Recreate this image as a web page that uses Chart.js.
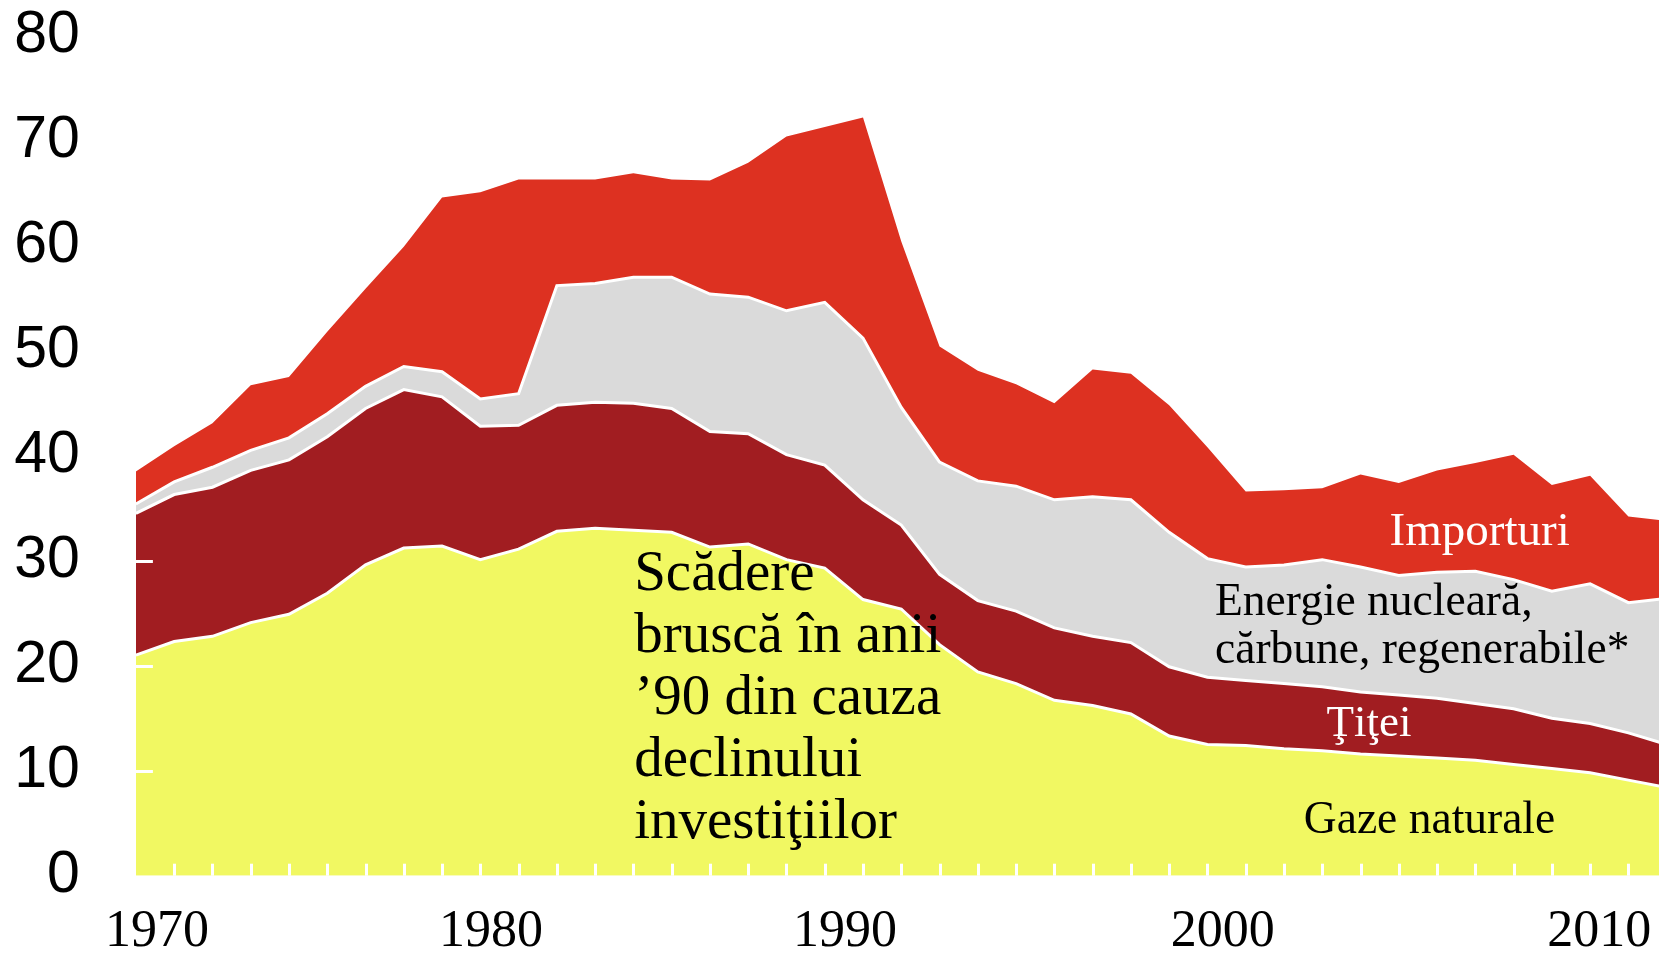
<!DOCTYPE html>
<html>
<head>
<meta charset="utf-8">
<script src="https://cdn.jsdelivr.net/npm/chart.js@4/dist/chart.umd.min.js"></script>
<style>
  html, body { margin: 0; padding: 0; background: #ffffff; overflow: hidden; }
  #wrap { width: 1659px; height: 958px; position: relative; }
</style>
</head>
<body>
<div id="wrap"><canvas id="c"></canvas></div>
<script>
// ---- data ----
const years = [1970,1971,1972,1973,1974,1975,1976,1977,1978,1979,
               1980,1981,1982,1983,1984,1985,1986,1987,1988,1989,
               1990,1991,1992,1993,1994,1995,1996,1997,1998,1999,
               2000,2001,2002,2003,2004,2005,2006,2007,2008,2009,2010];

const gazeNaturale = [21.0,22.3,22.8,24.1,24.9,26.9,29.6,31.2,31.4,30.1,
                      31.1,32.8,33.1,32.9,32.7,31.3,31.6,30.1,29.3,26.3,
                      25.4,22.0,19.4,18.3,16.7,16.2,15.4,13.3,12.5,12.4,
                      12.1,11.9,11.6,11.4,11.2,11.0,10.6,10.2,9.8,9.1,8.4];

const titei = [13.5,14.0,14.2,14.5,14.7,14.9,14.9,15.1,14.2,12.7,
               11.8,12.0,12.0,12.1,11.8,11.0,10.5,10.0,9.8,9.5,
               8.0,6.7,6.8,6.9,6.9,6.6,6.8,6.6,6.4,6.2,
               6.2,6.1,5.9,5.8,5.7,5.4,5.3,4.8,4.7,4.5,4.1];

const nuclearCarbune = [0.9,1.2,1.9,1.9,2.1,2.2,2.1,2.2,2.4,2.6,
                        3.0,11.4,11.3,12.0,12.5,13.1,13.0,13.7,15.5,15.4,
                        11.2,10.7,11.4,11.9,12.2,13.3,13.6,12.8,11.3,10.8,
                        11.3,12.1,11.9,11.4,12.0,12.6,12.3,12.1,13.3,12.4,13.9];

const importuri = [3.1,3.4,4.2,6.2,5.8,7.8,9.3,11.4,16.6,19.7,
                   20.4,10.1,9.9,9.9,9.3,10.8,12.8,16.6,16.7,21.0,
                   15.8,11.0,10.5,9.7,9.2,12.1,12.0,12.1,10.6,7.2,
                   7.1,6.8,8.8,8.8,9.7,10.3,11.9,10.1,10.3,8.2,7.4];

const yTicks = [0,10,20,30,40,50,60,70,80];
const xTickLabels = ['1970','1980','1990','2000','2010'];

// ---- layout / style settings ----
const xLabelPos = [1970.55, 1979.28, 1988.53, 1998.4, 2008.24];
const serif = "'Liberation Serif', 'DejaVu Serif', serif";
const annotations = [
  { lines: ['Scădere', 'bruscă în anii', '’90 din cauza', 'declinului', 'investiţiilor'],
    x: 1983.02, y: 27.2, size: 57, lh: 62, color: '#000000' },
  { lines: ['Importuri'], x: 2002.76, y: 31.5, size: 47, lh: 48, color: '#ffffff' },
  { lines: ['Energie nucleară,', 'cărbune, regenerabile*'], x: 1998.2, y: 24.83, size: 45.5, lh: 48.3, color: '#000000' },
  { lines: ['Ţiţei'], x: 2001.11, y: 13.3, size: 45, lh: 48, color: '#ffffff' },
  { lines: ['Gaze naturale'], x: 2000.52, y: 4.04, size: 45.5, lh: 48, color: '#000000' }
];

const pts = arr => years.map((yr, i) => ({ x: yr, y: arr[i] }));

const innerTicks = {
  id: 'innerTicks',
  afterDatasetsDraw(chart) {
    const { ctx, chartArea, scales: { x, y } } = chart;
    ctx.save();
    ctx.strokeStyle = '#ffffff';
    ctx.lineWidth = 3;
    for (let i = 1; i < years.length; i++) {
      const px = Math.round(x.getPixelForValue(years[i])) + 0.5;
      if (px > chartArea.right) continue;
      ctx.beginPath();
      ctx.moveTo(px, chartArea.bottom);
      ctx.lineTo(px, chartArea.bottom - 12);
      ctx.stroke();
    }
    for (const v of yTicks) {
      if (v === 0) continue;
      const py = Math.round(y.getPixelForValue(v)) + 0.5;
      ctx.beginPath();
      ctx.moveTo(chartArea.left, py);
      ctx.lineTo(chartArea.left + 17, py);
      ctx.stroke();
    }
    ctx.restore();
  }
};

const textLabels = {
  id: 'textLabels',
  afterDraw(chart) {
    const { ctx, scales: { x, y } } = chart;
    ctx.save();
    ctx.textAlign = 'left';
    ctx.textBaseline = 'alphabetic';
    for (const a of annotations) {
      ctx.font = a.size + 'px ' + serif;
      ctx.fillStyle = a.color;
      const px = x.getPixelForValue(a.x);
      const py = y.getPixelForValue(a.y);
      a.lines.forEach((t, k) => ctx.fillText(t, px, py + k * a.lh));
    }
    ctx.restore();
  }
};

new Chart(document.getElementById('c'), {
  type: 'line',
  data: {
    datasets: [
      { label: 'Gaze naturale', data: pts(gazeNaturale), backgroundColor: '#F1F862',
        borderColor: '#ffffff', borderWidth: 3, fill: 'origin' },
      { label: 'Ţiţei', data: pts(titei), backgroundColor: '#A11D21',
        borderColor: '#ffffff', borderWidth: 3, fill: '-1' },
      { label: 'Energie nucleară, cărbune, regenerabile*', data: pts(nuclearCarbune), backgroundColor: '#DADADA',
        borderColor: '#ffffff', borderWidth: 3, fill: '-1' },
      { label: 'Importuri', data: pts(importuri), backgroundColor: '#DD3121',
        borderColor: 'rgba(0,0,0,0)', borderWidth: 0, fill: '-1' }
    ]
  },
  options: {
    responsive: true,
    maintainAspectRatio: false,
    animation: false,
    devicePixelRatio: 1,
    layout: { padding: 0, autoPadding: false },
    elements: { point: { radius: 0, hoverRadius: 0 }, line: { tension: 0, borderJoinStyle: 'miter' } },
    plugins: { legend: { display: false }, tooltip: { enabled: false } },
    datasets: { line: { clip: 0 } },
    scales: {
      x: {
        type: 'linear',
        min: 1970,
        max: 2009.8,
        grid: { display: false, drawTicks: false },
        border: { display: false },
        afterBuildTicks: scale => { scale.ticks = xLabelPos.map(v => ({ value: v })); },
        afterFit: scale => {
          scale.height = 82.3;
          scale.paddingLeft = 0;
          scale.paddingRight = 0;
        },
        ticks: {
          autoSkip: false,
          maxRotation: 0,
          padding: 25,
          color: '#000000',
          font: { family: serif, size: 52 },
          callback: (v, i) => xTickLabels[i]
        }
      },
      y: {
        stacked: true,
        min: 0,
        max: 80,
        grid: { display: false, drawTicks: false },
        border: { display: false },
        afterBuildTicks: scale => { scale.ticks = yTicks.map(v => ({ value: v })); },
        afterFit: scale => {
          scale.width = 135.9;
          scale.paddingTop = 35.7;
          scale.paddingBottom = 0;
        },
        ticks: {
          padding: 56,
          color: '#000000',
          font: { family: "'Liberation Sans', Arial, sans-serif", size: 59 },
          callback: v => String(v)
        }
      }
    }
  },
  plugins: [innerTicks, textLabels]
});
</script>
</body>
</html>
